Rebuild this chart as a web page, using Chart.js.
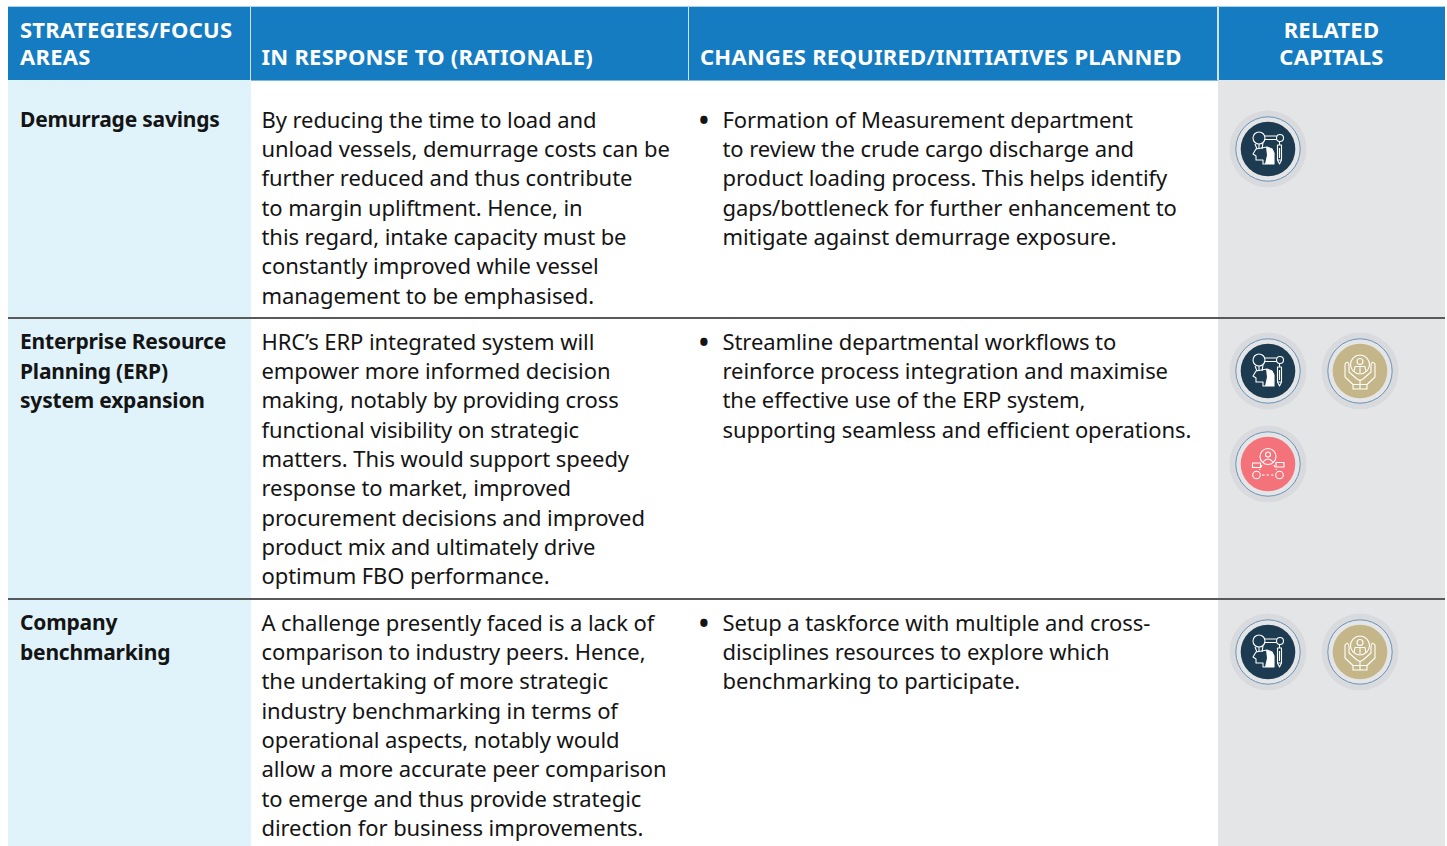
<!DOCTYPE html>
<html>
<head>
<meta charset="utf-8">
<title>Strategies and focus areas</title>
<script src="https://cdn.jsdelivr.net/npm/chart.js@4/dist/chart.umd.min.js"></script>
<style>
    html, body { margin: 0; padding: 0; background: #fff; }
    body { position: relative; width: 1447px; height: 846px; overflow: hidden; font-family: "Noto Sans", sans-serif; color: #141414; }
    .box { position: absolute; }
    .txt { position: absolute; font-size: 22px; line-height: 29.35px; white-space: pre; letter-spacing: -0.08px; }
    .head { color: #fff; font-weight: 700; font-size: 22px; letter-spacing: 0.25px; line-height: 27px; }
    .strong { font-weight: 700; font-size: 21px; letter-spacing: -0.2px; }
    .bullet { font-weight: 700; font-size: 26px; }
    canvas { position: absolute; }
</style>
</head>
<body>
<script>
// noi dung bang
const columnTitles = [
    'STRATEGIES/FOCUS\nAREAS',
    'IN RESPONSE TO (RATIONALE)',
    'CHANGES REQUIRED/INITIATIVES PLANNED',
    'RELATED\nCAPITALS'
];
const strategies = [
    'Demurrage savings',
    'Enterprise Resource\nPlanning (ERP)\nsystem expansion',
    'Company\nbenchmarking'
];
const rationale = [
    'By reducing the time to load and\nunload vessels, demurrage costs can be\nfurther reduced and thus contribute\nto margin upliftment. Hence, in\nthis regard, intake capacity must be\nconstantly improved while vessel\nmanagement to be emphasised.',
    'HRC’s ERP integrated system will\nempower more informed decision\nmaking, notably by providing cross\nfunctional visibility on strategic\nmatters. This would support speedy\nresponse to market, improved\nprocurement decisions and improved\nproduct mix and ultimately drive\noptimum FBO performance.',
    'A challenge presently faced is a lack of\ncomparison to industry peers. Hence,\nthe undertaking of more strategic\nindustry benchmarking in terms of\noperational aspects, notably would\nallow a more accurate peer comparison\nto emerge and thus provide strategic\ndirection for business improvements.'
];
const initiatives = [
    'Formation of Measurement department\nto review the crude cargo discharge and\nproduct loading process. This helps identify\ngaps/bottleneck for further enhancement to\nmitigate against demurrage exposure.',
    'Streamline departmental workflows to\nreinforce process integration and maximise\nthe effective use of the ERP system,\nsupporting seamless and efficient operations.',
    'Setup a taskforce with multiple and cross-\ndisciplines resources to explore which\nbenchmarking to participate.'
];
// cac von lien quan cua tung dong
const slotColumns = ['left', 'right'];
const slotLines = ['upper', 'lower'];
const capitalsByRow = [
    [{x: 'left', y: 'upper', capital: 'intellectual'}],
    [{x: 'left', y: 'upper', capital: 'intellectual'}, {x: 'right', y: 'upper', capital: 'human'}, {x: 'left', y: 'lower', capital: 'social'}],
    [{x: 'left', y: 'upper', capital: 'intellectual'}, {x: 'right', y: 'upper', capital: 'human'}]
];

// bo cuc
const colX = [8, 250.5, 688.5, 1218, 1445];
const headTop = 6.5, headBottom = 79.5;
const rowTop = [80, 319, 600, 846];
const textTop = [104.6, 326.6, 607.6];
const capitalTop = [149, 371, 652];
const capitalColors = {intellectual: '#1c3b50', human: '#c4b688', social: '#f4737b'};

function addBox(x, y, w, h, color) {
    const d = document.createElement('div');
    d.className = 'box';
    d.style.cssText = `left:${x}px;top:${y}px;width:${w}px;height:${h}px;background:${color}`;
    document.body.appendChild(d);
}

function addText(x, y, text, cls, align, w) {
    const d = document.createElement('div');
    d.className = 'txt ' + cls;
    d.textContent = text;
    d.style.left = x + 'px';
    d.style.top = y + 'px';
    if (align) { d.style.textAlign = align; d.style.width = w + 'px'; }
    document.body.appendChild(d);
}

// nen va duong ke
addBox(colX[0], headTop, colX[4] - colX[0], headBottom - headTop, '#157cc2');
addBox(colX[0], headBottom, colX[4] - colX[0], 1, '#7db9e0');
addBox(colX[0], headTop - 0.5, colX[4] - colX[0], 1, '#a9d2ec');
[1, 2, 3].forEach(function (i) { addBox(colX[i] - 1, headTop, 1.5, headBottom - headTop, '#cfe5f4'); });
addBox(colX[0], rowTop[0], colX[1] - colX[0], rowTop[3] - rowTop[0], '#e0f2fa');
addBox(colX[3], rowTop[0], colX[4] - colX[3], rowTop[3] - rowTop[0], '#e4e5e7');
addBox(colX[0], 317, colX[4] - colX[0], 2, '#58595b');
addBox(colX[0], 598, colX[4] - colX[0], 2, '#58595b');

// tieu de cot
addText(20, 16, columnTitles[0], 'head');
addText(261.5, 43, columnTitles[1], 'head');
addText(700, 43, columnTitles[2], 'head');
addText(colX[3], 16, columnTitles[3], 'head', 'center', colX[4] - colX[3] + 0);

// noi dung tung dong
strategies.forEach(function (s, i) {
    addText(20, textTop[i] + 0.8, s, 'strong');
    addText(261.5, textTop[i], rationale[i], '');
    addText(722.5, textTop[i], initiatives[i], '');
    addText(699, textTop[i] + 1, '•', 'bullet');
});

// ve icon trang tren dia mau
function drawIcon(name) {
    const c = document.createElement('canvas');
    c.width = 80; c.height = 80;
    const g = c.getContext('2d');
    g.translate(40, 40);
    g.fillStyle = '#d8dadd';
    g.beginPath(); g.arc(0, 0, 38.5, 0, Math.PI * 2); g.fill();
    g.fillStyle = '#e4e5e7';
    g.beginPath(); g.arc(0, 0, 32.5, 0, Math.PI * 2); g.fill();
    g.strokeStyle = '#6b93b5'; g.lineWidth = 1;
    g.beginPath(); g.arc(0, 0, 32.2, 0, Math.PI * 2); g.stroke();
    g.fillStyle = capitalColors[name];
    g.beginPath(); g.arc(0, 0, 27.3, 0, Math.PI * 2); g.fill();

    g.strokeStyle = '#fff'; g.fillStyle = '#fff'; g.lineWidth = 1.1; g.lineJoin = 'round';
    const circle = function (x, y, r) { g.beginPath(); g.arc(x, y, r, 0, Math.PI * 2); g.stroke(); };
    if (name === 'intellectual') {
        circle(-9, -11, 6);
        circle(12, -11, 3.5);
        g.beginPath(); g.moveTo(-4, -13); g.lineTo(8.5, -13); g.moveTo(-4, -9.5); g.lineTo(8.5, -9.5);
        g.moveTo(-13, -5); g.lineTo(-11, 0); g.moveTo(-9, -5); g.lineTo(-9, 0); g.moveTo(-5, -6); g.lineTo(-6, 0); g.stroke();
        // dau nguoi
        g.beginPath();
        g.moveTo(-15, 5); g.lineTo(-12, 0); g.lineTo(-1, -2); g.lineTo(4, 0);
        g.lineTo(6, 4); g.lineTo(6, 15); g.lineTo(-5, 15); g.lineTo(-5, 11); g.lineTo(-12, 11);
        g.lineTo(-12, 7); g.closePath(); g.stroke();
        g.beginPath();
        g.moveTo(-2, -2); g.lineTo(4, 0); g.lineTo(6, 4); g.lineTo(6, 15); g.lineTo(-3, 15); g.lineTo(-1, 6); g.closePath(); g.fill();
        // but chi
        g.strokeRect(9.5, -4, 4, 15);
        g.beginPath(); g.moveTo(9.5, 11); g.lineTo(11.5, 15); g.lineTo(13.5, 11);
        g.moveTo(11.5, -7.5); g.lineTo(11.5, -4); g.moveTo(11.5, -1); g.lineTo(11.5, 9); g.stroke();
    } else if (name === 'human') {
        circle(0, -6.5, 9.5);
        circle(0, -9.5, 3);
        g.beginPath(); g.moveTo(-6, 1); g.lineTo(-5, -4.5); g.lineTo(5, -4.5); g.lineTo(6, 1); g.moveTo(0, -5); g.lineTo(0, 2); g.stroke();
        // hai ban tay
        g.beginPath();
        g.moveTo(-7, 13.5); g.lineTo(-15, 6); g.lineTo(-15, -7); g.quadraticCurveTo(-12, -11, -11, -6); g.lineTo(-11, 1);
        g.lineTo(-3, 8); g.lineTo(0, 9.5); g.lineTo(3, 8); g.lineTo(11, 1); g.lineTo(11, -6);
        g.quadraticCurveTo(12, -11, 15, -7); g.lineTo(15, 6); g.lineTo(7, 13.5); g.stroke();
        g.strokeRect(-7, 13.5, 14, 4.5);
        g.beginPath(); g.moveTo(0, 9.5); g.lineTo(0, 18); g.stroke();
    } else {
        circle(0, -7.5, 8);
        circle(0, -9.5, 2.5);
        g.beginPath(); g.moveTo(-5, -2); g.quadraticCurveTo(0, -8, 5, -2); g.stroke();
        circle(-11.5, 11, 3.8);
        circle(11.5, 11, 3.8);
        g.strokeRect(-15.5, -1, 8, 4.5);
        g.strokeRect(8, -1.5, 8, 4.5);
        g.setLineDash([2.5, 2]);
        g.beginPath(); g.moveTo(-6, 11); g.lineTo(6, 11);
        g.moveTo(-6, 1); g.lineTo(-8.5, 6); g.moveTo(6, 1); g.lineTo(8.5, 6); g.stroke();
        g.setLineDash([]);
    }
    return c;
}

const iconImages = {};
Object.keys(capitalColors).forEach(function (k) { iconImages[k] = drawIcon(k); });

// moi dong mot bieu do nho trong cot cuoi
function renderCapitals(rowIndex) {
    const top = capitalTop[rowIndex] - 50;
    const holder = document.createElement('div');
    holder.className = 'box';
    holder.style.cssText = `left:${colX[3]}px;top:${top}px;width:${colX[4] - colX[3]}px;height:193px`;
    const canvas = document.createElement('canvas');
    canvas.style.cssText = `left:0;top:0;width:${colX[4] - colX[3]}px;height:193px`;
    holder.appendChild(canvas);
    document.body.appendChild(holder);
    const points = capitalsByRow[rowIndex];
    new Chart(canvas.getContext('2d'), {
        type: 'scatter',
        data: {
            datasets: [{
                data: points,
                pointStyle: points.map(function (p) { return iconImages[p.capital]; }),
                clip: false
            }]
        },
        options: {
            responsive: false,
            animation: false,
            events: [],
            layout: {padding: {left: 50, right: 85, top: 50, bottom: 50}},
            plugins: {legend: {display: false}, tooltip: {enabled: false}},
            scales: {
                x: {type: 'category', labels: slotColumns, offset: false, display: false},
                y: {type: 'category', labels: slotLines, offset: false, display: false}
            }
        }
    });
}

capitalsByRow.forEach(function (r, i) { renderCapitals(i); });
</script>
</body>
</html>
